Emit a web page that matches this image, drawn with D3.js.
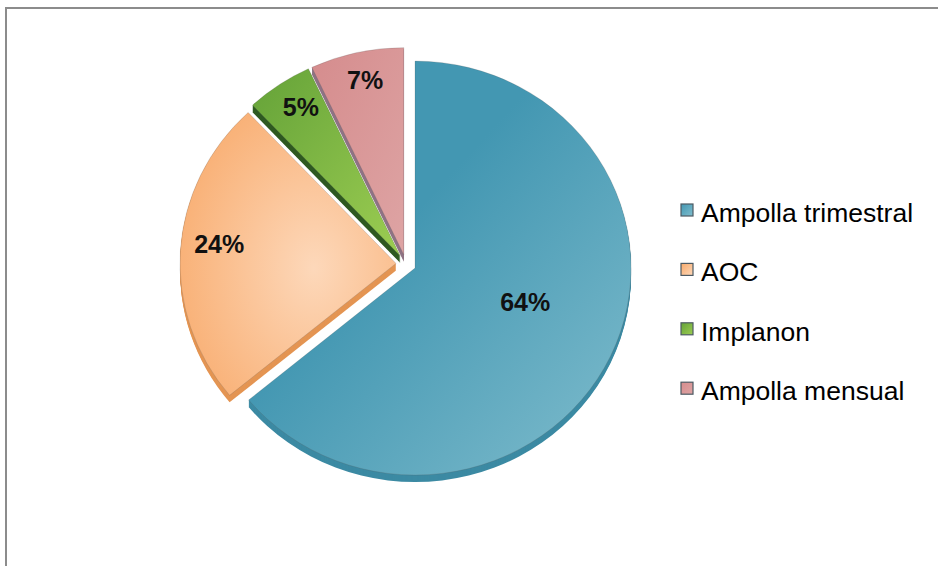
<!DOCTYPE html>
<html><head><meta charset="utf-8">
<script src="https://cdn.jsdelivr.net/npm/d3@7/dist/d3.min.js"></script>
<style>body{margin:0;background:#fff}svg{display:block}</style>
</head><body>
<svg id="chart" width="938" height="566"></svg>
<script>
const categories = ["Ampolla trimestral", "AOC", "Implanon", "Ampolla mensual"];
const values = [64, 24, 5, 7];
const valueLabels = ["64%", "24%", "5%", "7%"];
const topColors = [["#4397b2", "#80bdcd"], ["#f8aa6b", "#fdd8ba"], ["#64a238", "#9ccd52"], ["#d58c8d", "#dea4a4"]];
const sideColors = ["#3c8aa3", "#e49553", "#2f5a22", "#8f7384"];

const svg = d3.select("#chart");
const cx = 406, cy = 264, rx = 216, ry = 207, k = ry / rx, explode = 10, depth = 7;

// frame
svg.append("rect").attr("x", 6).attr("y", 8).attr("width", 1000).attr("height", 1000)
  .attr("fill", "#fff").attr("stroke", "#8c8c8c").attr("stroke-width", 2);

const defs = svg.append("defs");
topColors.forEach((c, i) => {
  let g;
  if (i === 1) {
    g = defs.append("radialGradient").attr("id", "g" + i).attr("cx", 0.62).attr("cy", 0.55).attr("r", 0.75);
    g.append("stop").attr("offset", 0).attr("stop-color", c[1]);
    g.append("stop").attr("offset", 1).attr("stop-color", c[0]);
  } else {
    g = defs.append("linearGradient").attr("id", "g" + i)
      .attr("x1", 0).attr("y1", 0).attr("x2", 1).attr("y2", 1);
    g.append("stop").attr("offset", i === 0 ? 0.4 : 0).attr("stop-color", c[0]);
    g.append("stop").attr("offset", 1).attr("stop-color", c[1]);
  }
  const lg = defs.append("linearGradient").attr("id", "l" + i).attr("x1", 0).attr("y1", 0).attr("x2", 1).attr("y2", 1);
  lg.append("stop").attr("offset", 0).attr("stop-color", c[0]);
  lg.append("stop").attr("offset", 1).attr("stop-color", c[1]);
});

const pie = d3.pie().sort(null).value(d => d).startAngle(0).endAngle(2 * Math.PI);
const arcs = pie(values);
const arc = d3.arc().innerRadius(0).outerRadius(rx);

function off(a) {
  const m = (a.startAngle + a.endAngle) / 2;
  return [explode * Math.sin(m), -explode * Math.cos(m) * k];
}

const gSide = svg.append("g"), gTop = svg.append("g");
arcs.forEach((a, i) => {
  const [dx, dy] = off(a);
  for (let s = depth; s >= 1; s--) {
    gSide.append("path").attr("d", arc(a))
      .attr("transform", `translate(${cx + dx},${cy + dy + s}) scale(1,${k})`)
      .attr("fill", sideColors[i]);
  }
  gTop.append("path").attr("d", arc(a))
    .attr("transform", `translate(${cx + dx},${cy + dy}) scale(1,${k})`)
    .attr("fill", `url(#g${i})`).attr("stroke", "rgba(80,80,80,0.25)").attr("stroke-width", 0.8);
});

// labels
arcs.forEach((a, i) => {
  const [dx, dy] = off(a);
  const big = (a.endAngle - a.startAngle) > Math.PI;
  const lr = big ? rx * 0.55 : rx * 0.82;
  const m = (a.startAngle + a.endAngle) / 2 - (big ? 0.055 : 0);
  const x = cx + dx + lr * Math.sin(m);
  const y = cy + dy - lr * Math.cos(m) * k;
  svg.append("text").attr("x", x).attr("y", y)
    .attr("text-anchor", "middle")
    .attr("font-family", "Liberation Sans, Arial, sans-serif")
    .attr("font-weight", "bold").attr("font-size", 25).attr("fill", "#111")
    .text(valueLabels[i]);
});

// legend
const leg = svg.append("g").attr("transform", "translate(681,0)");
categories.forEach((c, i) => {
  const y = 222 + i * 59.4;
  leg.append("rect").attr("x", 0).attr("y", y - 18).attr("width", 12).attr("height", 12)
    .attr("fill", `url(#l${i})`).attr("stroke", "#4d5a63").attr("stroke-width", 1.2);
  leg.append("text").attr("x", 20).attr("y", y)
    .attr("font-family", "Liberation Sans, Arial, sans-serif")
    .attr("font-size", 26.5).attr("fill", "#000").text(c);
});
</script>
</body></html>
